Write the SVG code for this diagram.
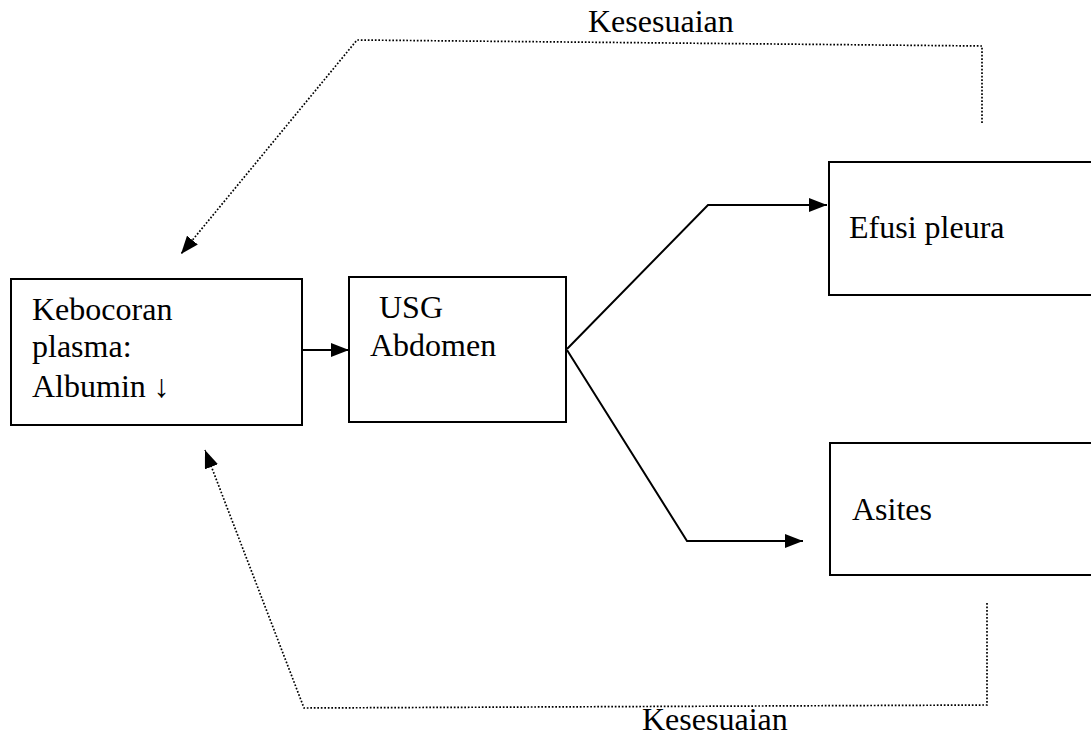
<svg xmlns="http://www.w3.org/2000/svg" width="1091" height="736" viewBox="0 0 1091 736">
  <style>
    .box { fill: #ffffff; stroke: #000000; stroke-width: 2; }
    .lbl { font-family: "Liberation Serif", "DejaVu Serif", serif; font-size: 32px; fill: #000000; }
    .flow { fill: none; stroke: #000000; stroke-width: 2; }
    .fb { fill: none; stroke: #000000; stroke-width: 1.7; stroke-dasharray: 1.7 1.8; }
  </style>
  <defs>
    <marker id="head" viewBox="0 0 18 14" refX="18" refY="7" markerWidth="18" markerHeight="14" markerUnits="userSpaceOnUse" orient="auto">
      <path d="M0,0 L18,7 L0,14 Z" fill="#000000"/>
    </marker>
  </defs>
  <rect width="1091" height="736" fill="#ffffff"/>

  <g id="connectors">
    <!-- solid flow -->
    <line class="flow" x1="302" y1="350" x2="349" y2="350" marker-end="url(#head)"/>
    <polyline class="flow" points="567,349 708,205 827,205" marker-end="url(#head)"/>
    <polyline class="flow" points="567,350 687,541 803,541" marker-end="url(#head)"/>
    <!-- dotted feedback loops -->
    <polyline class="fb" points="982,123 982,46 357,40 181,254" marker-end="url(#head)"/>
    <polyline class="fb" points="987,603 987,705 304,708 205,450" marker-end="url(#head)"/>
  </g>

  <g id="node-kebocoran">
    <rect class="box" x="11" y="279" width="291" height="146"/>
    <text class="lbl" x="32" y="320">Kebocoran</text>
    <text class="lbl" x="32" y="357">plasma:</text>
    <text class="lbl" x="32" y="397">Albumin ↓</text>
  </g>

  <g id="node-usg">
    <rect class="box" x="349" y="277" width="217" height="145"/>
    <text class="lbl" x="379" y="318">USG</text>
    <text class="lbl" x="370" y="356">Abdomen</text>
  </g>

  <g id="node-efusi">
    <rect class="box" x="829" y="162" width="280" height="133"/>
    <text class="lbl" x="849" y="238">Efusi pleura</text>
  </g>

  <g id="node-asites">
    <rect class="box" x="830" y="443" width="280" height="132"/>
    <text class="lbl" x="852" y="520">Asites</text>
  </g>

  <g id="labels">
    <text class="lbl" x="588" y="32">Kesesuaian</text>
    <text class="lbl" x="642" y="730">Kesesuaian</text>
  </g>
</svg>
